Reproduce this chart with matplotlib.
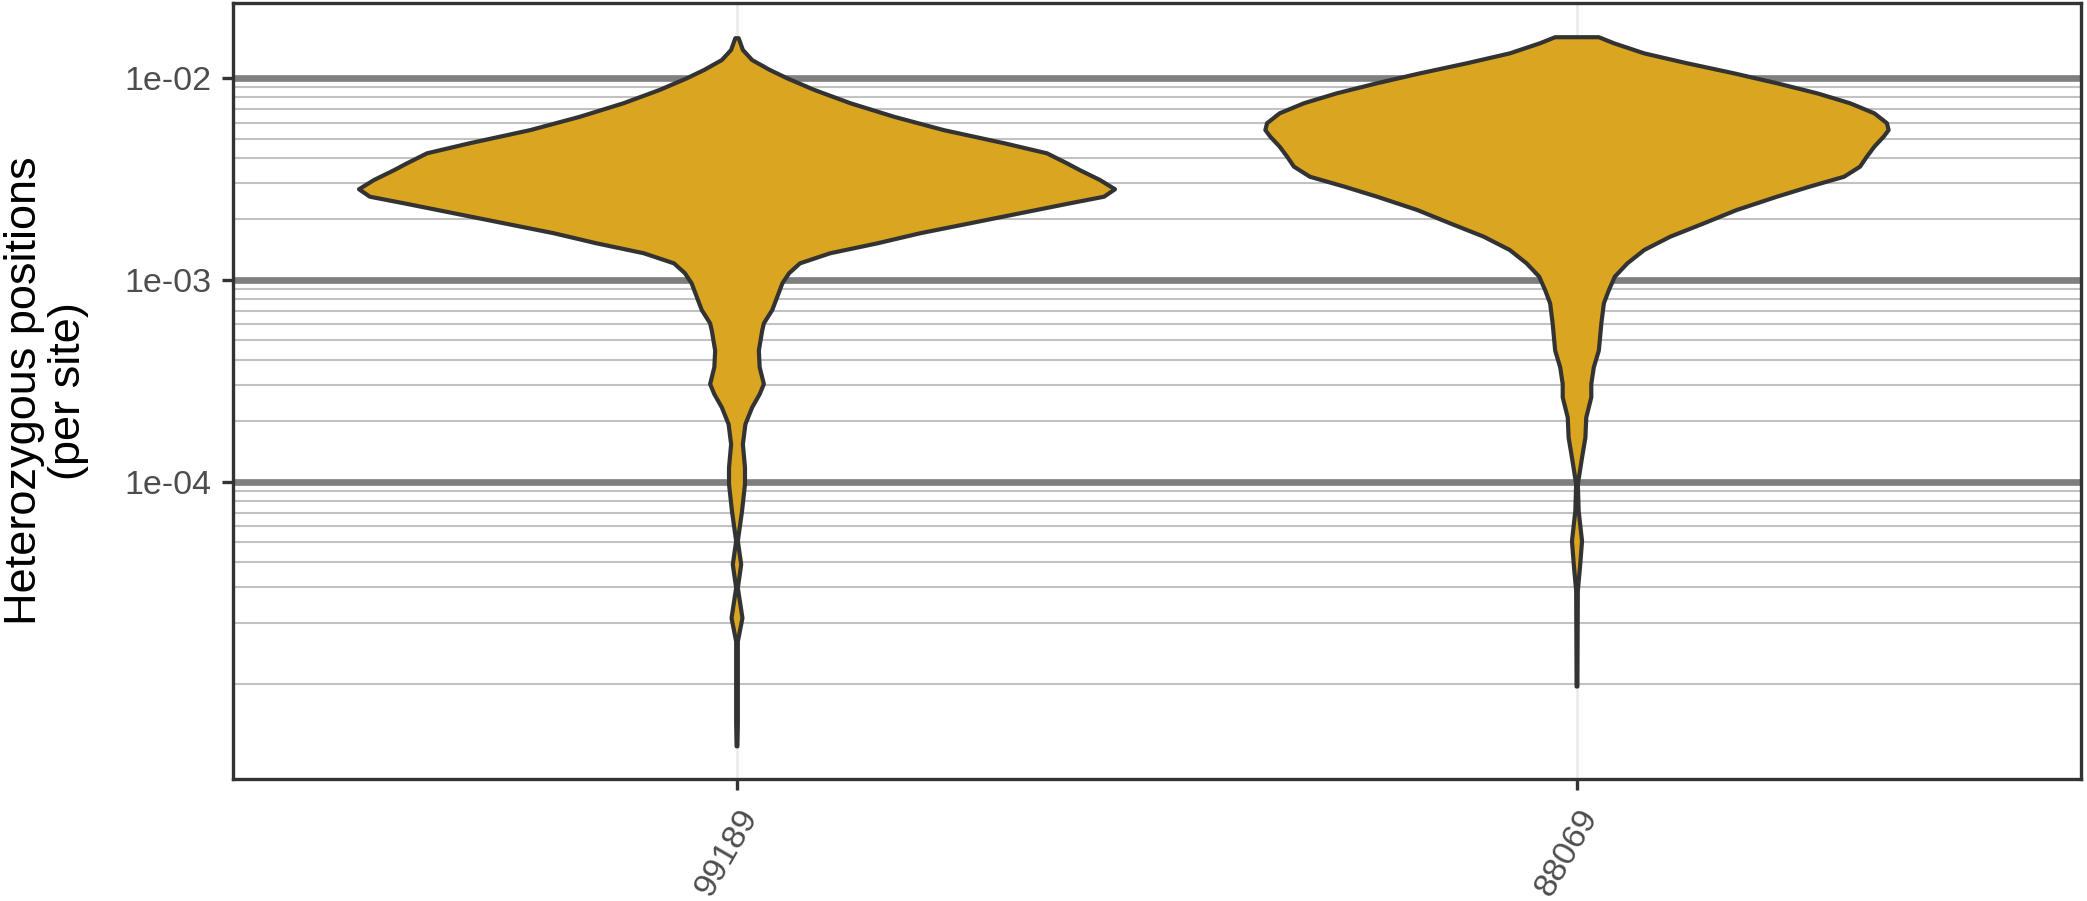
import numpy as np
import matplotlib
matplotlib.use('Agg')
import matplotlib.pyplot as plt
from matplotlib.ticker import FixedLocator, NullFormatter

plt.rcParams['font.family'] = ['Liberation Sans', 'DejaVu Sans']

# samples on the x axis
samples = ['99189', '88069']

# violin outlines: log10(heterozygosity) and half width (x units)
log_99189 = [-1.804, -1.862, -1.912, -1.961, -2.003, -2.060, -2.126, -2.193, -2.259, -2.324,
             -2.374, -2.424, -2.457, -2.506, -2.552, -2.589, -2.622, -2.671, -2.721, -2.770,
             -2.820, -2.869, -2.919, -2.968, -3.018, -3.084, -3.150, -3.216, -3.252, -3.351,
             -3.434, -3.517, -3.567, -3.633, -3.716, -3.815, -3.931, -4.013, -4.146, -4.295,
             -4.411, -4.527, -4.676, -4.792, -5.000, -5.200, -5.311]
hw_99189 = [0.002, 0.007, 0.018, 0.039, 0.060, 0.092, 0.135, 0.187, 0.246, 0.318,
            0.369, 0.393, 0.408, 0.432, 0.450, 0.437, 0.396, 0.337, 0.277, 0.218,
            0.167, 0.111, 0.075, 0.062, 0.054, 0.048, 0.042, 0.032, 0.030, 0.026,
            0.027, 0.032, 0.027, 0.018, 0.010, 0.007, 0.0095, 0.0095, 0.006, 0.001,
            0.005, 0.001, 0.0065, 0.001, 0.001, 0.001, 0.0005]

log_88069 = [-1.799, -1.829, -1.879, -1.928, -1.978, -2.027, -2.077, -2.126, -2.176, -2.225,
             -2.259, -2.292, -2.341, -2.391, -2.440, -2.490, -2.539, -2.589, -2.655, -2.721,
             -2.787, -2.853, -2.919, -2.985, -3.051, -3.117, -3.216, -3.351, -3.434, -3.517,
             -3.583, -3.683, -3.782, -3.881, -4.013, -4.146, -4.295, -4.427, -4.540, -4.800,
             -5.015]
hw_88069 = [0.026, 0.044, 0.080, 0.131, 0.187, 0.238, 0.286, 0.325, 0.354, 0.369,
            0.371, 0.365, 0.354, 0.345, 0.337, 0.318, 0.277, 0.238, 0.190, 0.151,
            0.111, 0.080, 0.060, 0.045, 0.038, 0.032, 0.029, 0.026, 0.020, 0.017,
            0.017, 0.011, 0.010, 0.006, 0.001, 0.002, 0.006, 0.0035, 0.001, 0.0007,
            0.0005]

major_ticks = [1e-4, 1e-3, 1e-2]
major_labels = ['1e-04', '1e-03', '1e-02']
minor_ticks = [k * 10.0 ** e for e in (-5, -4, -3) for k in range(1, 10)]

W, H = 2087, 901
fig = plt.figure(figsize=(W / 100, H / 100), dpi=100)
ax = fig.add_axes([233 / W, 1 - 779 / H, (2081 - 233) / W, (779 - 3.3) / H])

ax.set_yscale('log')
ax.set_ylim(10 ** -5.473, 10 ** -1.631)
ax.set_xlim(0.4, 2.6)

for i, (lg, hw) in enumerate([(log_99189, hw_99189), (log_88069, hw_88069)]):
    c = i + 1
    y = 10 ** np.array(lg)
    hw = np.array(hw)
    xs = np.concatenate([c + hw, (c - hw)[::-1]])
    ys = np.concatenate([y, y[::-1]])
    ax.fill(xs, ys, facecolor='#DAA520', edgecolor='#333333', linewidth=3.0,
            joinstyle='round', zorder=3)

ax.set_xticks([1, 2])
ax.set_xticklabels(samples, rotation=60, ha='right', va='top', rotation_mode='anchor')
ax.yaxis.set_major_locator(FixedLocator(major_ticks))
ax.set_yticklabels(major_labels)
ax.yaxis.set_minor_locator(FixedLocator(minor_ticks))
ax.yaxis.set_minor_formatter(NullFormatter())

ax.set_axisbelow(True)
ax.grid(True, axis='x', which='major', color='#EBEBEB', linewidth=2.0)
ax.grid(True, axis='y', which='minor', color='#C2C2C2', linewidth=1.5)
ax.grid(True, axis='y', which='major', color='#7F7F7F', linewidth=4.8)

ax.tick_params(axis='both', which='major', length=8.2, width=2.4, color='#333333',
               labelsize=24.5, labelcolor='#4D4D4D')
ax.tick_params(axis='y', which='major', pad=7.5)
ax.tick_params(axis='x', which='major', pad=9.5)
ax.tick_params(axis='y', which='minor', length=0)

for sp in ax.spines.values():
    sp.set_color('#333333')
    sp.set_linewidth(2.4)

fig.text(0.002, 1 - 391 / H, 'Heterozygous positions\n(per site)', rotation=90,
         ha='left', va='center', multialignment='center', fontsize=32.5,
         linespacing=1.1, color='black')

fig.savefig('out.png', dpi=100)
